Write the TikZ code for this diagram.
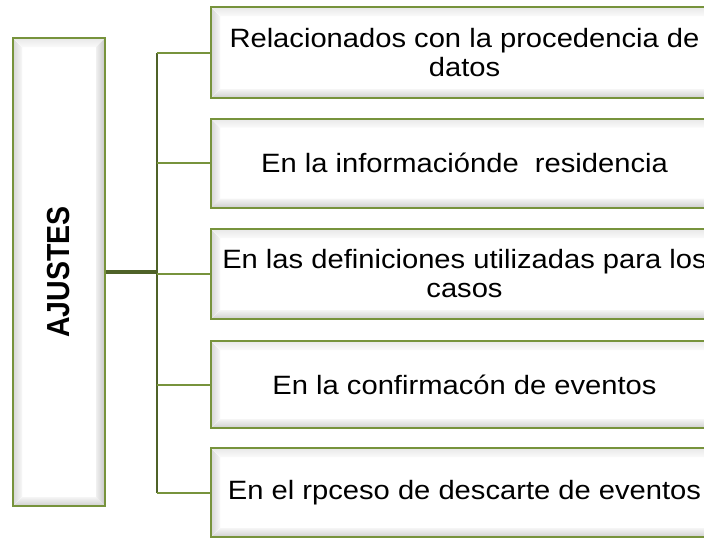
\documentclass[tikz,border=0pt]{standalone}
\usepackage{fontspec}
\setmainfont{Liberation Sans}
\newfontfamily\boxfont[FakeStretch=1.1]{Liberation Sans}
\definecolor{gframe}{HTML}{77933C}
\definecolor{gdark}{HTML}{4F6228}
\tikzset{
  bevelbox/.style={draw=gframe, line width=2pt, fill=white, inner sep=0pt, align=center,
    path picture={
      \coordinate (pSW) at (path picture bounding box.south west);
      \coordinate (pNE) at (path picture bounding box.north east);
      \coordinate (pNW) at (pSW|-pNE);
      \coordinate (pSE) at (pNE|-pSW);
      \fill[left color=gray!32, right color=gray!6]
        (pSW) -- (pNW) -- ([shift={(9pt,-9pt)}]pNW) -- ([shift={(9pt,9pt)}]pSW) -- cycle;
      \fill[top color=gray!18, bottom color=gray!4]
        (pNW) -- (pNE) -- ([shift={(-9pt,-9pt)}]pNE) -- ([shift={(9pt,-9pt)}]pNW) -- cycle;
      \fill[bottom color=gray!38, top color=gray!8]
        (pSW) -- (pSE) -- ([shift={(-9pt,9pt)}]pSE) -- ([shift={(9pt,9pt)}]pSW) -- cycle;
      \fill[right color=gray!45, left color=gray!12]
        (pSE) -- (pNE) -- ([shift={(-9pt,-9pt)}]pNE) -- ([shift={(-9pt,9pt)}]pSE) -- cycle;
    }},
  itembox/.style={bevelbox, minimum width=507pt, font={\boxfont\fontsize{26.5}{29}\selectfont}},
  branch/.style={draw=gframe, line width=2pt},
  busline/.style={draw=gdark, line width=2pt},
  trunk/.style={draw=gdark, line width=4pt},
}
\begin{document}
\begin{tikzpicture}[x=1pt, y=-1pt]
  \useasboundingbox (0,0) rectangle (704,539);
  \clip (0,0) rectangle (704,539);

  \node[bevelbox, minimum width=92pt, minimum height=468pt] (aj) at (59,272)
    {\rotatebox{90}{\scalebox{1}[1.12]{\fontsize{28.5}{30}\selectfont\bfseries AJUSTES}}};

  \node[itembox, minimum height=91pt] (b1) at (464.5,52.5) {Relacionados con la procedencia de\\datos};
  \node[itembox, minimum height=89pt] (b2) at (464.5,163) {\raisebox{-2pt}{En la informaciónde\ \ residencia}};
  \node[itembox, minimum height=90pt] (b3) at (464.5,274) {En las definiciones utilizadas para los\\casos};
  \node[itembox, minimum height=87pt] (b4) at (464.5,384.5) {\raisebox{-2pt}{En la confirmacón de eventos}};
  \node[itembox, minimum height=89pt] (b5) at (464.5,492.5) {\raisebox{-2pt}{En el rpceso de descarte de eventos}};

  \coordinate (bus) at (157,272);
  \draw[busline] (bus|-b1.west) -- (bus|-b5.west);
  \foreach \i in {1,...,5} {
    \draw[branch] (bus|-b\i.west) -- (b\i.west);
  }
  \draw[trunk] (aj.east) -- (bus);
\end{tikzpicture}
\end{document}
